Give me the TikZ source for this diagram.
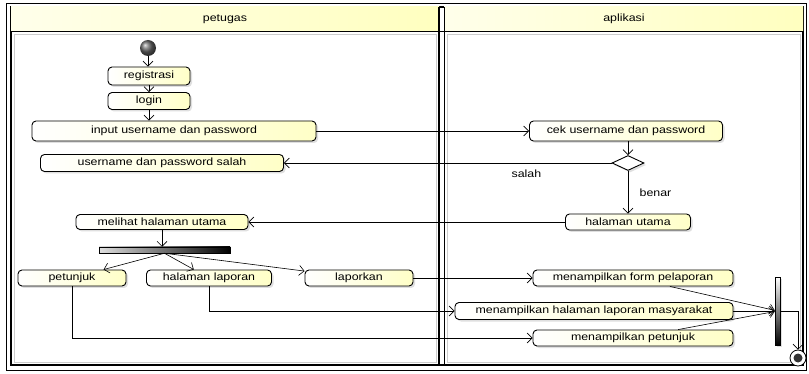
\documentclass[tikz,border=0pt]{standalone}
\usepackage{fontspec}
\setmainfont[FakeStretch=1.18]{Liberation Sans}
\usetikzlibrary{arrows.meta,shapes.geometric,shadows}

\begin{document}
\begin{tikzpicture}[x=1pt,y=-1pt,font=\fontsize{10.5}{12}\selectfont,
  aksi/.style={draw,line width=0.9pt,rounded corners=4pt,inner sep=0pt,
    left color=white,right color=yellow!22,minimum height=16pt,
    drop shadow={shadow xshift=2pt,shadow yshift=-2pt,opacity=0.25}},
  panah/.style={-{Straight Barb[length=5pt,width=10pt]},line width=0.6pt},
  garis/.style={inner sep=0pt,draw,line width=0.5pt}]
\useasboundingbox (0,0) rectangle (809,374);
\fill[white] (0,0) rectangle (809,374);
\draw[line width=0.8pt] (6,3) rectangle (806,370);
\draw[line width=1.2pt] (11,7) rectangle (803,365);
\shade[left color=yellow!8,right color=yellow!25] (11,7) rectangle (439,31);
\shade[left color=yellow!8,right color=yellow!25] (444,7) rectangle (803,31);
\draw[line width=0.6pt] (11,31) -- (803,31);
\draw[line width=1.6pt] (439,7) -- (439,365);
\draw[line width=0.5pt] (444,7) -- (444,365);
\draw[gray!40,line width=0.4pt] (14,34) rectangle (436,362);
\draw[gray!40,line width=0.4pt] (447,34) rectangle (800,362);
\node (petugas) at (225,19) {petugas};
\node (aplikasi) at (624,19) {aplikasi};

\node[circle,minimum size=16pt,inner sep=0pt,ball color=gray!80!black] (awal) at (148,48) {};
\node[aksi,minimum width=82pt,minimum height=18pt] (registrasi) at (149,76) {registrasi};
\node[aksi,minimum width=82pt,minimum height=17pt] (login) at (149,101) {login};
\node[aksi,minimum width=284pt,minimum height=20pt] (input) at (174,131) {input username dan password};
\node[aksi,minimum width=193pt,minimum height=20pt] (cek) at (626,131) {cek username dan password};
\node[diamond,draw,line width=0.9pt,fill=white,aspect=2,inner sep=0pt,minimum width=32pt,minimum height=15pt,
  drop shadow={shadow xshift=2pt,shadow yshift=-2pt,opacity=0.25}] (pilih) at (628,163) {};
\node[aksi,minimum width=243pt,minimum height=17pt] (salah) at (162,163) {username dan password salah};
\node[aksi,minimum width=125pt] (utama) at (628,222) {halaman utama};
\node[aksi,minimum width=172pt,minimum height=15pt] (melihat) at (162,222) {melihat halaman utama};
\node[garis,left color=gray!25,right color=black,minimum width=131pt,minimum height=6pt] (garpu) at (164.5,250) {};
\node[aksi,minimum width=108pt] (petunjuk) at (72,278) {petunjuk};
\node[aksi,minimum width=125pt] (laporan) at (209,278) {halaman laporan};
\node[aksi,minimum width=108pt] (laporkan) at (359,278) {laporkan};
\node[aksi,minimum width=200pt] (form) at (633,278) {menampilkan form pelaporan};
\node[aksi,minimum width=278pt,minimum height=17pt] (masyarakat) at (594,311) {menampilkan halaman laporan masyarakat};
\node[aksi,minimum width=200pt] (tampil) at (633,338) {menampilkan petunjuk};
\node[garis,top color=white,bottom color=black,minimum width=5pt,minimum height=68pt,
  drop shadow={shadow xshift=2pt,shadow yshift=-2pt,opacity=0.25}] (gabung) at (777.5,311) {};
\node[circle,draw,line width=0.8pt,fill=white,minimum size=16pt,inner sep=0pt,
  path picture={\fill[gray!40!black] (path picture bounding box.center) circle (4.5pt);}] (selesai) at (798,358) {};

\draw[panah] (awal) -- (awal |- registrasi.north);
\draw[panah] (registrasi) -- (login);
\draw[panah] (login.south) -- (login.south |- input.north);
\draw[panah] (input) -- (cek);
\draw[panah] (cek.south -| pilih) -- (pilih.north);
\draw[panah] (pilih) -- node[pos=0.26,below=3pt] (lblsalah) {salah} (salah);
\draw[panah] (pilih) -- node[right=8pt] (lblbenar) {benar} (utama);
\draw[panah] (utama) -- (melihat);
\draw[panah] (melihat) -- (melihat |- garpu.north);
\draw[panah] (garpu.south) -- (petunjuk);
\draw[panah] (garpu.south) -- (laporan);
\draw[panah] (garpu.south) -- (laporkan);
\draw[panah] (laporkan) -- (form);
\draw[panah] (laporan) |- (masyarakat);
\draw[panah] (petunjuk) |- (tampil);
\draw[panah] (form) -- (gabung);
\draw[panah] (masyarakat) -- (gabung);
\draw[panah] (tampil) -- (gabung);
\draw[panah] (gabung) -| (selesai);
\end{tikzpicture}
\end{document}
